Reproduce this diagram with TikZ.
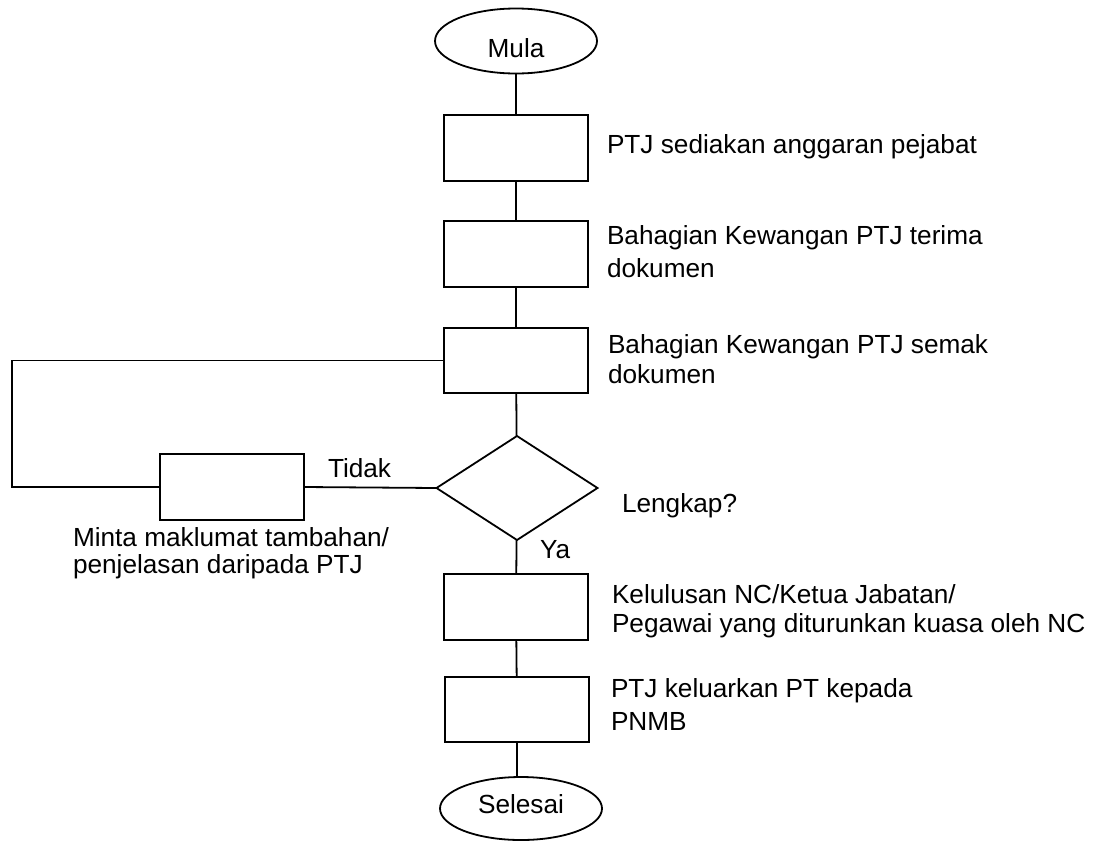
\documentclass[tikz,border=0pt]{standalone}
\usepackage{fontspec}
\setmainfont{Liberation Sans}
\usetikzlibrary{shapes.geometric}
\begin{document}
\begin{tikzpicture}[x=1pt,y=-1pt,
  every node/.style={inner sep=0pt, outer sep=0pt},
  ln/.style={line width=1.8pt},
  box/.style={draw, line width=1.8pt, minimum width=144pt, minimum height=66pt},
  term/.style={draw, ellipse, line width=1.8pt, minimum width=162pt, minimum height=65pt, font=\fontsize{26.2}{30}\selectfont},
  dec/.style={draw, diamond, line width=1.8pt, minimum width=161pt, minimum height=104pt},
  lbl/.style={anchor=base west, align=left, font=\fontsize{26.2}{#1}\selectfont},
  lbl/.default=30
]
\useasboundingbox (0,0) rectangle (1100,841);
\node[term, text height=32pt, text depth=0pt] (mula) at (516,41) {Mula};
\node[box] (b1) at (516,148) {};
\node[box] (b2) at (516,254) {};
\node[box, minimum height=65pt] (b3) at (516,360.5) {};
\node[dec] (d) at (517,488) {};
\node[box] (lb) at (232,487) {};
\node[box] (b4) at (516,607) {};
\node[box, minimum height=65pt] (b5) at (517,709.5) {};
\node[term, minimum height=63pt, text height=9pt, text depth=0pt] (sel) at (521,808.5) {Selesai};
\coordinate (lp) at (12,362);

\draw[ln] (mula) -- (b1);
\draw[ln] (b1) -- (b2);
\draw[ln] (b2) -- (b3);
\draw[ln] (b3) -- (d);
\draw[ln] (d) -- (b4);
\draw[ln] (b4) -- (b5);
\draw[ln] (b5.south) -- (b5.south |- sel.north);
\draw[ln] (b3.west) -- (b3.west -| lp) |- (lb.west);
\draw[ln] (d.west) -- (lb.east);

\node[lbl] (t1) at (607,153) {PTJ sediakan anggaran pejabat};
\node[lbl=33] (t2) at (607,277) {Bahagian Kewangan PTJ terima\\dokumen};
\node[lbl=30] (t3) at (608,383) {Bahagian Kewangan PTJ semak\\dokumen};
\node[lbl=29] (t4) at (612,632) {Kelulusan NC/Ketua Jabatan/\\Pegawai yang diturunkan kuasa oleh NC};
\node[lbl=33] (t5) at (611,730) {PTJ keluarkan PT kepada\\PNMB};
\node[lbl=27] (t6) at (73,573) {Minta maklumat tambahan/\\penjelasan daripada PTJ};
\node[lbl] (tidak) at (328,477) {Tidak};
\node[lbl] (ya) at (540,558) {Ya};
\node[lbl] (lengkap) at (622,512) {Lengkap?};
\end{tikzpicture}
\end{document}
